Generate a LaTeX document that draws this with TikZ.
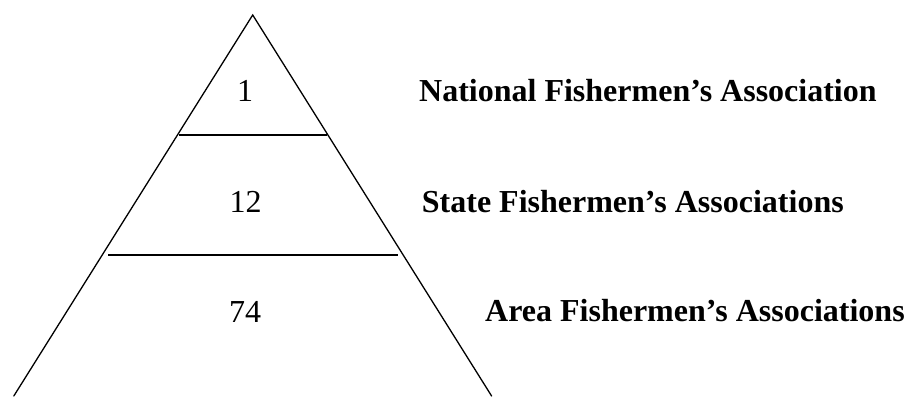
\documentclass[tikz,border=0pt]{standalone}
\usepackage{fontspec}
\setmainfont{Liberation Serif}
\begin{document}
\begin{tikzpicture}[x=1pt,y=-1pt,
  edge/.style={line width=1.3pt, line cap=round},
  tier/.style={line width=1.8pt},
  count/.style={anchor=base, inner sep=0pt, font=\fontsize{32}{38}\selectfont},
  level/.style={anchor=base west, inner sep=0pt, font=\fontsize{32}{38}\selectfont\bfseries}]
  \useasboundingbox (0,0) rectangle (909,396);

  % pyramid sides, open at the bottom
  \coordinate (apex) at (252.7,15);
  \coordinate (bl) at (13.8,396);
  \coordinate (br) at (491.6,396);
  \draw[edge] (bl) -- (apex) -- (br);

  % dividers between tiers
  \coordinate (d1l) at (179,135);
  \coordinate (d1r) at (327,135);
  \coordinate (d2l) at (108,255);
  \coordinate (d2r) at (398,255);
  \draw[tier] (d1l) -- (d1r);
  \draw[tier] (d2l) -- (d2r);

  % counts in each tier
  \node[count] (n1) at (245,101.5) {1};
  \node[count] (n2) at (245.5,212.3) {12};
  \node[count] (n3) at (245,322.3) {74};

  % tier names
  \node[level] (t1) at (419,101.5) {National Fishermen’s Association};
  \node[level] (t2) at (421.7,212.3) {State Fishermen’s Associations};
  \node[level] (t3) at (485,321.8) {Area Fishermen’s Associations};
\end{tikzpicture}
\end{document}
